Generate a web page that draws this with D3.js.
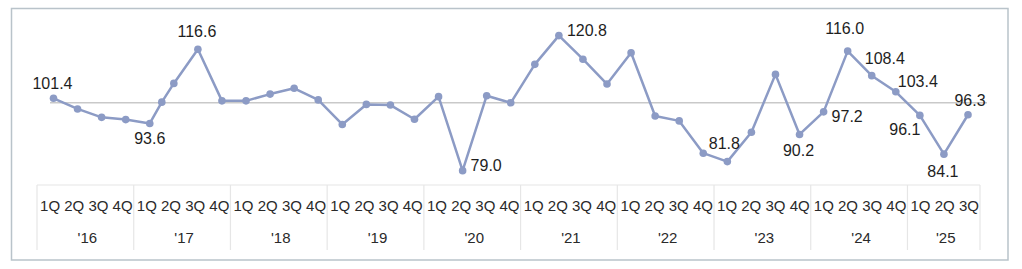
<!DOCTYPE html>
<html>
<head>
<meta charset="utf-8">
<script src="https://cdn.jsdelivr.net/npm/d3@7"></script>
<style>
  html, body { margin: 0; padding: 0; background: #fff; }
  svg { display: block; }
</style>
</head>
<body>
<svg id="chart" width="1022" height="269"></svg>
<script>
// ---- data ----
const quarterLabels = ["1Q","2Q","3Q","4Q","1Q","2Q","3Q","4Q","1Q","2Q","3Q","4Q","1Q","2Q","3Q","4Q","1Q","2Q","3Q","4Q","1Q","2Q","3Q","4Q","1Q","2Q","3Q","4Q","1Q","2Q","3Q","4Q","1Q","2Q","3Q","4Q","1Q","2Q","3Q"];
const yearLabels = ["'16","'17","'18","'19","'20","'21","'22","'23","'24","'25"];
const quartersPerYear = [4,4,4,4,4,4,4,4,4,3];
// position of each point on the quarter axis (0 = 1Q'16)
const pointQuarter = [0,1,2,3,4,4.5,5,6,7,8,9,10,11,12,13,14,15,16,17,18,19,20,21,22,23,24,25,26,27,28,29,30,31,32,33,34,35,36,37,38];
const values = [101.4,98.1,95.5,94.8,93.6,100.2,106.0,116.6,100.6,100.6,
                102.7,104.5,100.9,93.3,99.5,99.3,94.9,101.9,79.0,102.2,
                100.0,111.9,120.8,113.5,105.8,115.5,95.9,94.4,84.4,81.8,
                90.9,108.8,90.2,97.2,116.0,108.4,103.4,96.1,84.1,96.3];
const labelledPoints = [0,4,7,18,22,29,32,33,34,35,36,37,38,39];
const labelText = ["101.4","93.6","116.6","79.0","120.8","81.8","90.2","97.2","116.0","108.4","103.4","96.1","84.1","96.3"];
const referenceValue = 100;

// ---- label placement (styling) ----
const labelPlace = [
  {a:"middle",dx:-1,dy:-9},
  {a:"middle",dx:0,dy:21},
  {a:"middle",dx:-1,dy:-12.5},
  {a:"start",dx:8,dy:0},
  {a:"start",dx:8,dy:0},
  {a:"middle",dx:-3,dy:-13},
  {a:"middle",dx:-1,dy:22},
  {a:"start",dx:8,dy:10},
  {a:"middle",dx:-3,dy:-17},
  {a:"start",dx:-7,dy:-12},
  {a:"start",dx:2,dy:-5},
  {a:"middle",dx:-15,dy:20},
  {a:"middle",dx:-1,dy:23},
  {a:"middle",dx:2,dy:-9}
];

const svg = d3.select("#chart");
const lineColor = "#8c9bc5";

// frame
svg.append("rect").attr("x",11.5).attr("y",8.5).attr("width",996.5).attr("height",251.5)
  .attr("fill","#fff").attr("stroke","#b9c3ca").attr("stroke-width",1.5);

// scales
const x = d3.scaleLinear().domain([0,38]).range([53.5,968]);
const y = d3.scaleLinear().domain([70,125]).range([199.7,22.05]);
const band = d3.scaleBand().domain(d3.range(quarterLabels.length)).range([37,980]);

// reference line
svg.append("line")
  .attr("x1",50).attr("x2",987)
  .attr("y1",y(referenceValue)).attr("y2",y(referenceValue))
  .attr("stroke","#c9c9c9").attr("stroke-width",1.5);

// category table
const tableTop = 185, tableBottom = 250;
svg.append("line").attr("x1",37).attr("x2",980).attr("y1",tableTop).attr("y2",tableTop)
  .attr("stroke","#e6e6e6").attr("stroke-width",1.2);
let start = 0;
const yearCells = quartersPerYear.map((n,i) => { const c = {i, s:start, e:start+n-1}; start += n; return c; });
const sepXs = [band(0), ...yearCells.map(c => band(c.e) + band.bandwidth())];
svg.selectAll(".sep").data(sepXs).enter().append("line")
  .attr("x1",d=>d).attr("x2",d=>d).attr("y1",tableTop).attr("y2",tableBottom)
  .attr("stroke","#e6e6e6").attr("stroke-width",1.2);

svg.selectAll(".ql").data(quarterLabels).enter().append("text")
  .attr("x",(d,i)=>band(i)+band.bandwidth()/2+1)
  .attr("y",210.5)
  .attr("text-anchor","middle")
  .attr("font-family","Liberation Sans, Arial, sans-serif")
  .attr("font-size",15)
  .attr("fill","#2a2a2a")
  .text(d=>d);

svg.selectAll(".yl").data(yearCells).enter().append("text")
  .attr("x",c=>(band(c.s)+band(c.e)+band.bandwidth())/2+2)
  .attr("y",243)
  .attr("text-anchor","middle")
  .attr("font-family","Liberation Sans, Arial, sans-serif")
  .attr("font-size",15)
  .attr("fill","#2a2a2a")
  .text(c=>yearLabels[c.i]);

// series
const pts = values.map((v,i)=>({q:pointQuarter[i], v}));
svg.append("path").datum(pts)
  .attr("d", d3.line().x(d=>x(d.q)).y(d=>y(d.v)))
  .attr("fill","none").attr("stroke",lineColor).attr("stroke-width",2.5)
  .attr("stroke-linejoin","round");
svg.selectAll(".pt").data(pts).enter().append("circle")
  .attr("cx",d=>x(d.q)).attr("cy",d=>y(d.v)).attr("r",3.8)
  .attr("fill",lineColor);

// labels
svg.selectAll(".lbl").data(labelledPoints).enter().append("text")
  .attr("x",(d,i)=>x(pts[d].q)+labelPlace[i].dx)
  .attr("y",(d,i)=>y(pts[d].v)+labelPlace[i].dy)
  .attr("text-anchor",(d,i)=>labelPlace[i].a)
  .attr("font-family","Liberation Sans, Arial, sans-serif")
  .attr("font-size",16)
  .attr("fill","#1e1e1e")
  .text((d,i)=>labelText[i]);
</script>
</body>
</html>
